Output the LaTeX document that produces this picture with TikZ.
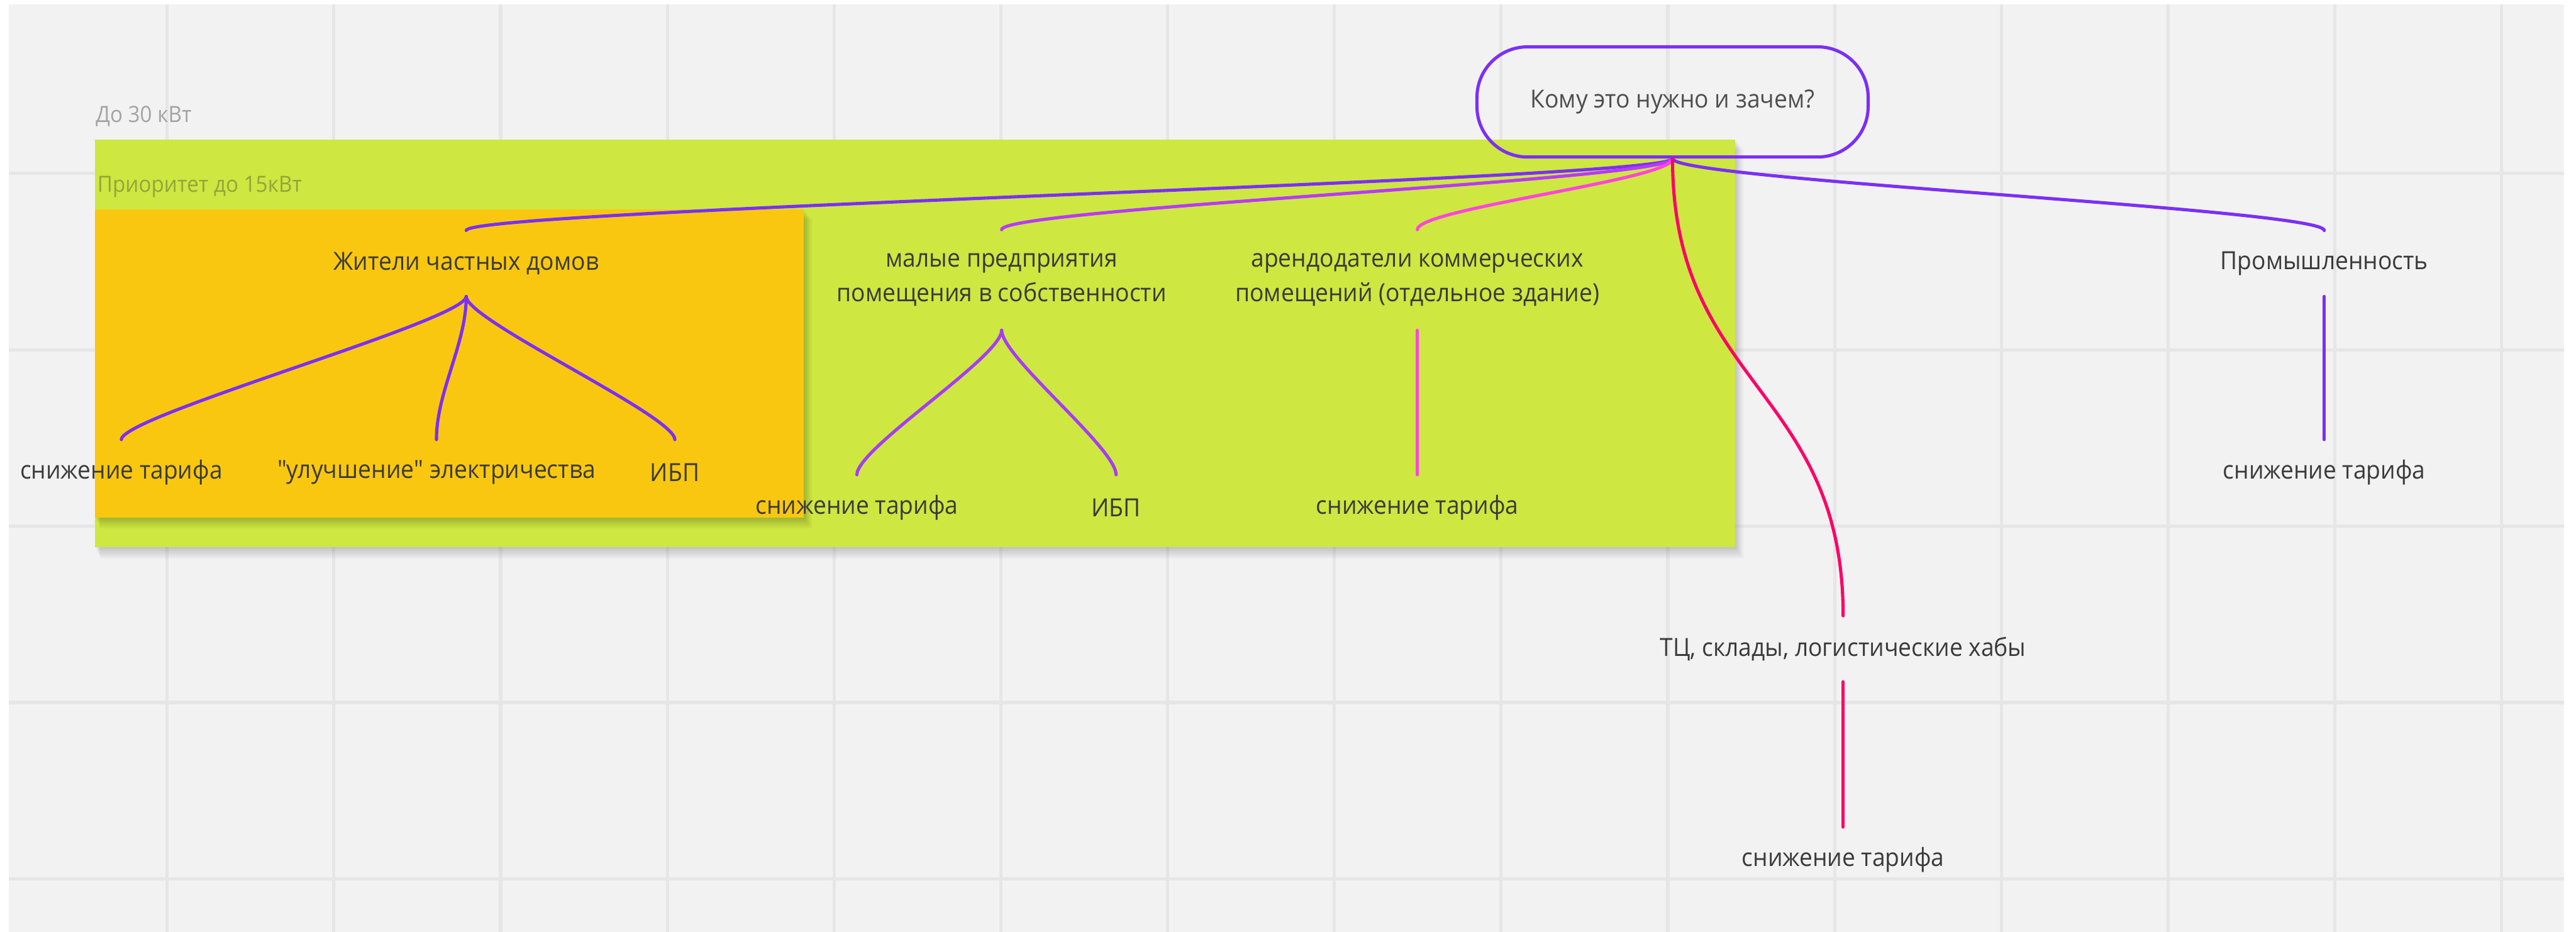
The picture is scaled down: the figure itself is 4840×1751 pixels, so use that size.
\documentclass[tikz,border=0pt]{standalone}
\usepackage{fontspec}
\setmainfont[FakeStretch=0.935]{Open Sans}
\newfontfamily\plainq[FakeStretch=0.935]{Open Sans}
\definecolor{bgc}{HTML}{F2F2F2}
\definecolor{gridc}{HTML}{E6E6E6}
\definecolor{limec}{HTML}{CEE741}
\definecolor{yelc}{HTML}{FAC710}
\definecolor{violc}{HTML}{7B2FF7}
\definecolor{purpc}{HTML}{A63CF5}
\definecolor{mauvec}{HTML}{B83AF8}
\definecolor{pinkc}{HTML}{FF45DC}
\definecolor{redc}{HTML}{FF0066}
\definecolor{txtc}{HTML}{3A3A3A}
\definecolor{lblc}{HTML}{A3A3A3}
\definecolor{lbltwoc}{HTML}{93A63A}
\begin{document}
\begin{tikzpicture}[x=0.2pt,y=-0.2pt,
  txt/.style={text=txtc, font=\fontsize{9.4}{13}\selectfont, align=center, inner sep=0pt, minimum height=24.4pt},
  txttwo/.style={txt, minimum height=37.4pt},
  conn/.style={line width=1.2pt, line cap=round},
  framelbl/.style={anchor=west, inner sep=0pt, font=\fontsize{8.4}{10}\selectfont},
  gridline/.style={gridc, line width=1.2pt}
]
\useasboundingbox (0,0) rectangle (4840,1751);
\fill[white] (0,0) rectangle (4840,1751);
\fill[bgc] (17,8) rectangle (4818,1751);
\foreach \k in {0,...,14} \draw[gridline] ({314+313.3*\k},8) -- ({314+313.3*\k},1751);
\foreach \k in {0,...,4} \draw[gridline] (17,{326+331.3*\k}) -- (4818,{326+331.3*\k});

% green frame with shadow
\foreach \i in {1,...,6} \fill[black,opacity=0.03] ({179+\i*1.5},{262+\i*3}) rectangle ({3260+\i*2.5},{1028+\i*3.5});
\fill[limec] (179,262) rectangle (3260,1028);
% yellow frame with shadow
\foreach \i in {1,...,6} \fill[black,opacity=0.035] ({179+\i*1.5},{393+\i*3}) rectangle ({1510+\i*2.5},{972+\i*3.5});
\fill[yelc] (179,393) rectangle (1510,972);

\node[framelbl, text=lblc] (l30) at (179,218) {До 30 кВт};
\node[framelbl, text=lbltwoc] (l15) at (182,351) {Приоритет до 15кВт};

\node[draw=violc, line width=1.2pt, rounded corners=19pt, minimum width=147pt, minimum height=41.4pt,
  text=txtc!90, font=\fontsize{9.4}{13}\selectfont, inner sep=0pt] (root) at (3142.5,191.5) {Кому это нужно и зачем?};

\node[txt] (zh) at (876,495) {Жители частных домов};
\node[txttwo] (mal) at (1882,526) {малые предприятия\\помещения в собственности};
\node[txttwo] (ar) at (2663,526) {арендодатели коммерческих\\помещений (отдельное здание)};
\node[txt] (prom) at (4367,495) {Промышленность};
\node[txt] (tc) at (3463,1219) {ТЦ, склады, логистические хабы};

\node[txt] (zh1) at (228,888) {снижение тарифа};
\node[txt] (zh2) at (820,888) {{\plainq"}улучшение{\plainq"} электричества};
\node[txt] (zh3) at (1268,888) {ИБП};
\node[txt] (m1) at (1610,954) {снижение тарифа};
\node[txt] (m2) at (2097,954) {ИБП};
\node[txt] (a1) at (2663,954) {снижение тарифа};
\node[txt] (p1) at (4367,888) {снижение тарифа};
\node[txt] (t1) at (3463,1616) {снижение тарифа};

% connectors from root
\draw[conn, violc] (root.south) .. controls +(0,40) and +(0,-40) .. (zh.north);
\draw[conn, mauvec] (root.south) .. controls +(0,40) and +(0,-40) .. (mal.north);
\draw[conn, pinkc] (root.south) .. controls +(0,40) and +(0,-40) .. (ar.north);
\draw[conn, violc] (root.south) .. controls +(0,40) and +(0,-40) .. (prom.north);
\draw[conn, redc] (root.south) .. controls +(0,427) and +(0,-427) .. (tc.north);

% subtrees
\draw[conn, violc] (zh.south) .. controls +(0,45) and +(0,-45) .. (zh1.north);
\draw[conn, violc] (zh.south) .. controls +(0,90) and +(0,-90) .. (zh2.north);
\draw[conn, violc] (zh.south) .. controls +(0,45) and +(0,-45) .. (zh3.north);
\draw[conn, purpc] (mal.south) .. controls +(0,50) and +(0,-50) .. (m1.north);
\draw[conn, purpc] (mal.south) .. controls +(0,50) and +(0,-50) .. (m2.north);
\draw[conn, pinkc] (ar.south) -- (a1.north);
\draw[conn, violc] (prom.south) -- (p1.north);
\draw[conn, redc] (tc.south) -- (t1.north);
\end{tikzpicture}
\end{document}
